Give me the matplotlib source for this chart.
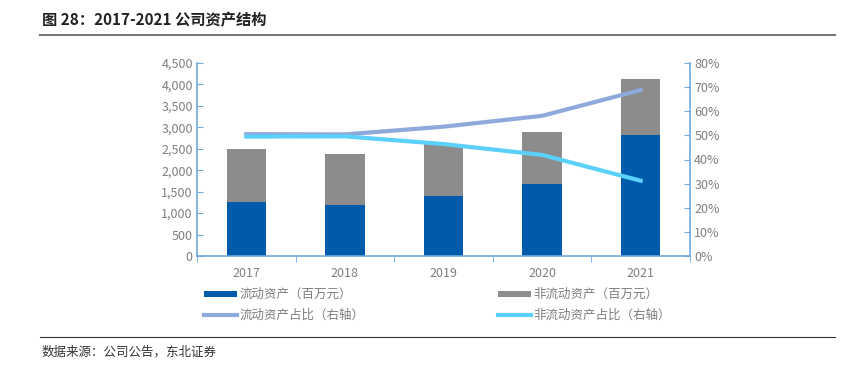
import matplotlib
matplotlib.use('Agg')
import matplotlib.pyplot as plt
from matplotlib.ticker import FuncFormatter, PercentFormatter
import numpy as np

plt.rcParams['font.family'] = ['Noto Sans CJK SC', 'DejaVu Sans']

years = ['2017', '2018', '2019', '2020', '2021']
current = [1260, 1200, 1400, 1680, 2830]
noncurrent = [1240, 1180, 1210, 1210, 1290]
current_pct = [50.5, 50.4, 53.6, 58.1, 68.8]
noncurrent_pct = [49.5, 49.6, 46.4, 41.9, 31.2]

c_blue = '#005BAC'
c_gray = '#8C8C8C'
c_line1 = '#8EA9DB'
c_line2 = '#5BD0FA'
c_spine = '#6FA8DC'
c_text = '#7F7F7F'

fig = plt.figure(figsize=(8.45, 3.69), dpi=100)
ax = fig.add_axes([197/845, 1-256/369, 493/845, 193/369])
ax2 = ax.twinx()

x = np.arange(len(years))
ax.bar(x, current, width=0.4, color=c_blue, label='流动资产（百万元）', zorder=2)
ax.bar(x, noncurrent, width=0.4, bottom=current, color=c_gray,
       label='非流动资产（百万元）', zorder=2)
ax2.plot(x, current_pct, color=c_line1, lw=3, label='流动资产占比（右轴）')
ax2.plot(x, noncurrent_pct, color=c_line2, lw=3, label='非流动资产占比（右轴）')

ax.set_xlim(-0.5, 4.5)
ax.set_ylim(0, 4500)
ax.set_yticks(range(0, 4501, 500))
ax.yaxis.set_major_formatter(FuncFormatter(lambda v, p: f'{int(v):,}'))
ax2.set_ylim(0, 80)
ax2.set_yticks(range(0, 81, 10))
ax2.yaxis.set_major_formatter(PercentFormatter(decimals=0))

ax.set_xticks(x)
ax.set_xticklabels(years)
ax.set_xticks(np.arange(-0.5, 5, 1), minor=True)
ax.tick_params(axis='x', which='major', length=0, pad=8, labelsize=9, labelcolor=c_text)
ax.tick_params(axis='x', which='minor', length=4, direction='out', color=c_spine)
ax.tick_params(axis='y', length=4, direction='in', color=c_spine, labelsize=9,
               labelcolor=c_text, pad=3)
ax2.tick_params(axis='y', length=4, direction='in', color=c_spine, labelsize=9,
                labelcolor=c_text, pad=3)
for a in (ax, ax2):
    a.spines['top'].set_visible(False)
    for s in ('left', 'right', 'bottom'):
        a.spines[s].set_color(c_spine)
        a.spines[s].set_linewidth(1.2)
ax.spines['right'].set_visible(False)
ax2.spines['left'].set_visible(False)
ax2.spines['bottom'].set_visible(False)

h1, l1 = ax.get_legend_handles_labels()
h2, l2 = ax2.get_legend_handles_labels()
handles = [h1[0], h2[0], h1[1], h2[1]]
labels = [l1[0], l2[0], l1[1], l2[1]]
leg = fig.legend(handles, labels, ncol=2, loc='upper left',
                 bbox_to_anchor=(193/845, 1-277/369), frameon=False,
                 fontsize=9, handlelength=2.6, handleheight=0.3, handletextpad=0.2,
                 columnspacing=10.7, labelspacing=0.6, labelcolor=c_text)

fig.text(42/845, 1-20/369, '图 28：2017-2021 公司资产结构', fontsize=11,
         fontweight='bold', va='center', ha='left', color='#222222')
fig.add_artist(plt.Line2D([40/845, 835/845], [1-35/369, 1-35/369],
                          color='#777777', lw=1.5))
fig.add_artist(plt.Line2D([40/845, 835/845], [1-337/369, 1-337/369],
                          color='#333333', lw=0.8))
fig.text(42/845, 1-352/369, '数据来源：公司公告，东北证券', fontsize=9,
         va='center', ha='left', color='#333333')

fig.savefig('out.png', dpi=100)
